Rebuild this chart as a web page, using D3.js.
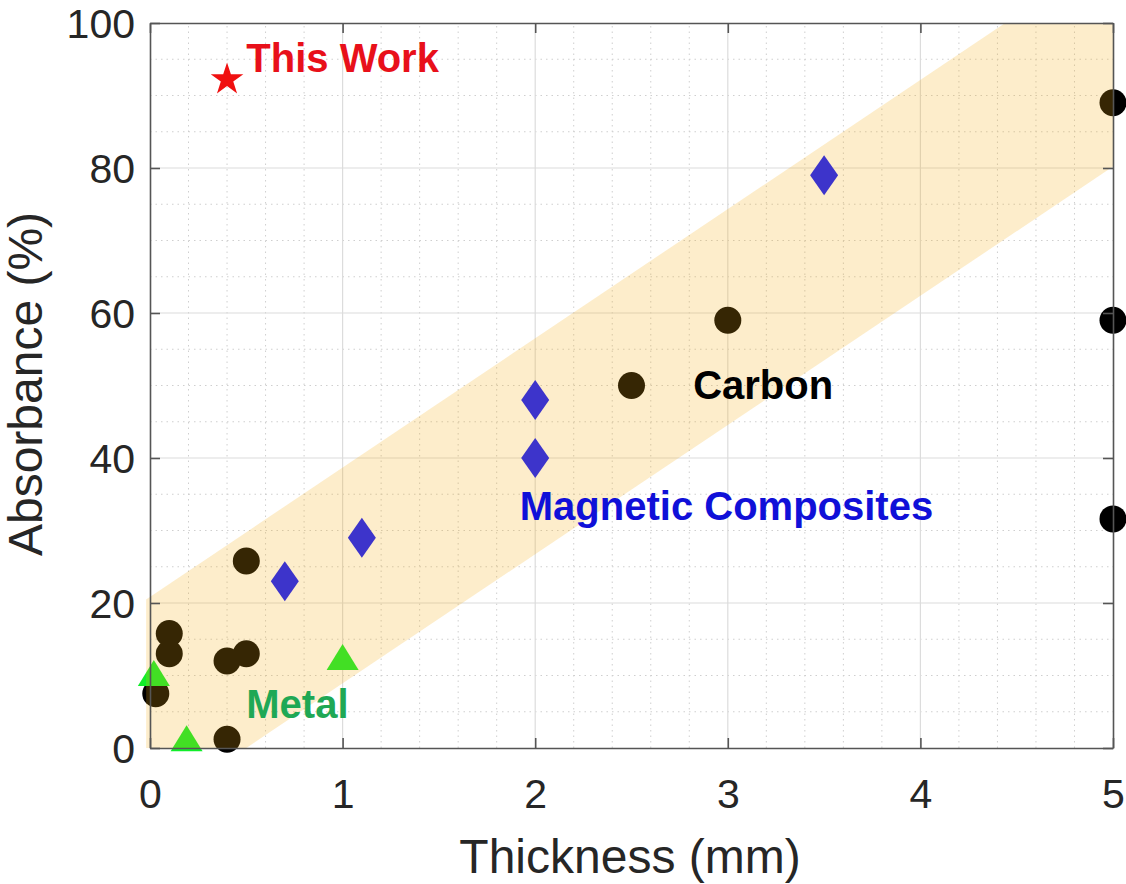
<!DOCTYPE html>
<html>
<head>
<meta charset="utf-8">
<script src="https://cdn.jsdelivr.net/npm/d3@7"></script>
<style>
  body { margin: 0; background: #fff; }
  text { font-family: "Liberation Sans", Arial, sans-serif; }
</style>
</head>
<body>
<svg id="chart"></svg>
<script>
// data
let carbonX = [0.03, 0.1, 0.1, 0.4, 0.5, 0.5, 0.4, 2.5, 3.0, 5.0, 5.0, 5.0];
let carbonY = [7.5, 15.8, 13.0, 12.0, 13.0, 25.8, 1.2, 50.0, 59.0, 89.0, 59.0, 31.6];

let magX = [0.7, 1.1, 2.0, 2.0, 3.5];
let magY = [23.0, 29.0, 40.0, 48.0, 79.0];

let metalX = [0.02, 0.19, 1.0];
let metalY = [9.8, 0.8, 12.0];

let workX = [0.4];
let workY = [92.2];

// trend band outline
let bandX = [-0.02, -0.02, 4.44, 5.0, 5.0, 0.5];
let bandY = [0, 20.5, 100, 100, 80.2, 0];

let xTicks = [0, 1, 2, 3, 4, 5];
let yTicks = [0, 20, 40, 60, 80, 100];

let width = 1126;
let height = 884;
let margin = { left: 150, right: 13, top: 23, bottom: 136 };

let svg = d3.select("#chart").attr("width", width).attr("height", height);

let xScale = d3.scaleLinear().domain([0, 5]).range([margin.left, width - margin.right]);
let yScale = d3.scaleLinear().domain([0, 100]).range([height - margin.bottom, margin.top]);

let x0 = xScale(0), x1 = xScale(5), y0 = yScale(0), y1 = yScale(100);

// minor grid
let minorX = d3.range(0, 5.001, 0.2).filter(d => Math.abs(d - Math.round(d)) > 0.01);
let minorY = d3.range(0, 100.1, 5).filter(d => d % 20 !== 0);

svg.append("g").selectAll("line").data(minorX).enter().append("line")
  .attr("x1", d => xScale(d)).attr("x2", d => xScale(d))
  .attr("y1", y0).attr("y2", y1)
  .attr("stroke", "#cfcfcf").attr("stroke-width", 1).attr("stroke-dasharray", "1.5,4");

svg.append("g").selectAll("line").data(minorY).enter().append("line")
  .attr("y1", d => yScale(d)).attr("y2", d => yScale(d))
  .attr("x1", x0).attr("x2", x1)
  .attr("stroke", "#cfcfcf").attr("stroke-width", 1).attr("stroke-dasharray", "1.5,4");

// major grid
svg.append("g").selectAll("line").data(xTicks.slice(1, -1)).enter().append("line")
  .attr("x1", d => xScale(d)).attr("x2", d => xScale(d))
  .attr("y1", y0).attr("y2", y1)
  .attr("stroke", "#dcdcdc").attr("stroke-width", 1.2);

svg.append("g").selectAll("line").data(yTicks.slice(1, -1)).enter().append("line")
  .attr("y1", d => yScale(d)).attr("y2", d => yScale(d))
  .attr("x1", x0).attr("x2", x1)
  .attr("stroke", "#dcdcdc").attr("stroke-width", 1.2);

// markers
let star = d3.symbol().type(d3.symbolStar).size(330);

svg.append("g").selectAll("circle").data(carbonX).enter().append("circle")
  .attr("cx", d => xScale(d))
  .attr("cy", (d, i) => yScale(carbonY[i]))
  .attr("r", 13.5)
  .attr("fill", "#000");

svg.append("g").selectAll("path").data(magX).enter().append("path")
  .attr("d", "M0,-20L14,0L0,20L-14,0Z")
  .attr("transform", (d, i) => "translate(" + xScale(d) + "," + yScale(magY[i]) + ")")
  .attr("fill", "#0a12ff");

svg.append("g").selectAll("path").data(metalX).enter().append("path")
  .attr("d", "M0,-17L16,9L-16,9Z")
  .attr("transform", (d, i) => "translate(" + xScale(d) + "," + yScale(metalY[i]) + ")")
  .attr("fill", "#10ee2a");

svg.append("g").selectAll("path").data(workX).enter().append("path")
  .attr("d", star)
  .attr("transform", (d, i) => "translate(" + xScale(d) + "," + yScale(workY[i]) + ")")
  .attr("fill", "#f01010");

// band on top, translucent
let bandPts = bandX.map((d, i) => [xScale(d), yScale(bandY[i])]);
svg.append("path")
  .attr("d", d3.line()(bandPts) + "Z")
  .attr("fill", "rgb(245,175,20)")
  .attr("fill-opacity", 0.22);

// axes box
let xAxis = d3.axisBottom(xScale).tickValues(xTicks).tickFormat(d3.format("d"))
  .tickSize(-10).tickSizeOuter(0).tickPadding(30);
let yAxis = d3.axisLeft(yScale).tickValues(yTicks).tickFormat(d3.format("d"))
  .tickSize(-10).tickSizeOuter(0).tickPadding(15);

let gx = svg.append("g").attr("transform", "translate(0," + y0 + ")").call(xAxis);
let gy = svg.append("g").attr("transform", "translate(" + x0 + ",0)").call(yAxis);
svg.append("g").attr("transform", "translate(0," + y1 + ")")
  .call(d3.axisTop(xScale).tickValues(xTicks).tickSize(-10).tickSizeOuter(0).tickFormat(""));
svg.append("g").attr("transform", "translate(" + x1 + ",0)")
  .call(d3.axisRight(yScale).tickValues(yTicks).tickSize(-10).tickSizeOuter(0).tickFormat(""));

svg.selectAll(".domain").attr("stroke", "#555").attr("stroke-width", 1.6);
svg.selectAll(".tick line").attr("stroke", "#555").attr("stroke-width", 1.6);
svg.selectAll(".tick text").attr("font-size", 41).attr("fill", "#262626")
  .style("font-family", "'Liberation Sans', Arial, sans-serif");
gy.selectAll(".tick text").attr("dy", "0.36em");
gx.selectAll(".tick text").attr("dy", "0.72em");

// axis titles
svg.append("text")
  .attr("x", 630).attr("y", 873)
  .attr("text-anchor", "middle").attr("font-size", 48).attr("fill", "#262626")
  .text("Thickness (mm)");

svg.append("text")
  .attr("transform", "translate(42,384) rotate(-90)")
  .attr("text-anchor", "middle").attr("font-size", 48).attr("fill", "#262626")
  .text("Absorbance (%)");

// category labels
let labels = [
  { t: "This Work", x: 0.5, y: 93.2, c: "#e8101a" },
  { t: "Carbon", x: 2.82, y: 48.2, c: "#000" },
  { t: "Magnetic Composites", x: 1.92, y: 31.5, c: "#1010d8" },
  { t: "Metal", x: 0.5, y: 4.1, c: "#1fa855" }
];
svg.append("g").selectAll("text").data(labels).enter().append("text")
  .attr("x", d => xScale(d.x)).attr("y", d => yScale(d.y))
  .attr("font-size", 40).attr("font-weight", "bold")
  .attr("fill", d => d.c)
  .text(d => d.t);
</script>
</body>
</html>
